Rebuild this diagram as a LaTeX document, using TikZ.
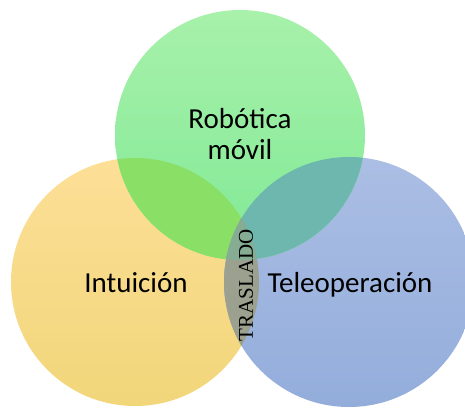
\documentclass[tikz,border=0pt]{standalone}
\usepackage{fontspec}
\setmainfont{Carlito}
\newfontfamily\timesfont{Liberation Serif}
\definecolor{verdeA}{HTML}{A8F1AA}
\definecolor{verdeB}{HTML}{80E996}
\definecolor{amarilloA}{HTML}{FDDF97}
\definecolor{amarilloB}{HTML}{F1D67A}
\definecolor{azulA}{HTML}{ABBEE4}
\definecolor{azulB}{HTML}{93ADDB}
\definecolor{verdeamarillo}{HTML}{8AE066}
\definecolor{verdeazul}{HTML}{6EB7AF}
\definecolor{amarilloazul}{HTML}{9CA18F}
\definecolor{centro}{HTML}{86AC94}
\tikzset{
  etiqueta/.style={font=\fontsize{29}{31}\selectfont, align=center, text=black},
  traslado/.style={font=\timesfont\fontsize{21}{21}\selectfont, text=black, rotate=90}
}
\begin{document}
\begin{tikzpicture}[x=1pt, y=-1pt]
		% Frame
		\clip (0,0) rectangle (465,407);
		% Centres
		\coordinate (robotica) at (240,135);
		\coordinate (intuicion) at (135,282);
		\coordinate (teleop) at (349,282);
		% Circles
		\shade[top color=amarilloA, bottom color=amarilloB] (intuicion) circle (124pt);
		\shade[top color=azulA, bottom color=azulB] (teleop) circle (125pt);
		\shade[top color=verdeA, bottom color=verdeB] (robotica) circle (125pt);
		% Overlaps
		\begin{scope}
			\clip (robotica) circle (125pt);
			\fill[verdeamarillo] (intuicion) circle (124pt);
			\fill[verdeazul] (teleop) circle (125pt);
		\end{scope}
		\begin{scope}
			\clip (intuicion) circle (124pt);
			\fill[amarilloazul] (teleop) circle (125pt);
			\clip (teleop) circle (125pt);
			\fill[centro] (robotica) circle (125pt);
		\end{scope}
		% Labels
		\node[etiqueta, anchor=base] (lrobotica) at (240,128) {Robótica};
		\node[etiqueta, anchor=base] (lmovil) at (240,159) {móvil};
		\node[etiqueta, anchor=base] (lintuicion) at (136,292) {Intuición};
		\node[etiqueta, anchor=base] (lteleop) at (350,292) {Teleoperación};
		\node[traslado] (ltraslado) at (246,285) {TRASLADO};
	\end{tikzpicture}
\end{document}
